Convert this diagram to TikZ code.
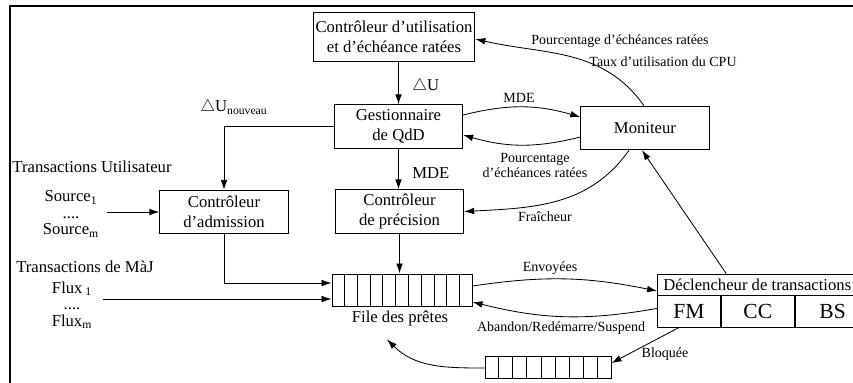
\documentclass[tikz,border=0pt]{standalone}
\usepackage{amsmath}
\usepackage{fontspec}
\setmainfont{Liberation Serif}
\usetikzlibrary{arrows.meta,calc}
\tikzset{
  box/.style={draw, line width=0.6pt, minimum width=77pt, minimum height=26pt, align=center, inner sep=1pt},
  cell/.style={draw, line width=0.5pt, minimum height=19.2pt, inner sep=0pt, font=\fontsize{12.9}{14}\selectfont},
  txt/.style={inner sep=0pt, anchor=base},
  grp/.style={inner sep=0pt, align=center, font=\fontsize{10}{9.9}\selectfont},
  lbl/.style={inner sep=0pt, anchor=base, font=\fontsize{8.4}{9.5}\selectfont},
  arr/.style={-{Latex[length=6pt,width=4pt]}, line width=0.5pt},
}

\begin{document}
\begin{tikzpicture}[x=0.6pt,y=0.6pt]
\useasboundingbox (0,0) rectangle (853,382);
\clip (0,0) rectangle (853,382);
\draw[line width=1.2pt] (10,-10) -- (10,376) -- (880,376);

% boxes
\node[box, minimum width=97pt, minimum height=29pt] (util) at (394,345) {Contrôleur d'utilisation\\et d'échéance ratées};
\node[box] (gest) at (398.5,255.5) {Gestionnaire\\de QdD};
\node[box] (moni) at (645,254) {Moniteur};
\node[box] (adm) at (224,170) {Contrôleur\\d'admission};
\node[box] (prec) at (399.5,170.5) {Contrôleur\\de précision};

% queues
\node[draw, line width=0.6pt, minimum width=84pt, minimum height=19.2pt, inner sep=0pt] (q) at (402,92) {};
\foreach \i in {1,...,10}
  \draw[line width=0.5pt] ($(q.south west)!\i/11!(q.south east)$) -- ($(q.north west)!\i/11!(q.north east)$);
\node[draw, line width=0.6pt, minimum width=75.6pt, minimum height=13.2pt, inner sep=0pt] (q2) at (548,15) {};
\foreach \i in {1,...,8}
  \draw[line width=0.5pt] ($(q2.south west)!\i/9!(q2.south east)$) -- ($(q2.north west)!\i/9!(q2.north east)$);

% trigger
\coordinate (dsw) at (657,87);
\node[inner sep=0pt, minimum height=12.6pt, anchor=west] (decl) at (663,97.5) {Déclencheur de transactions};
\node[cell, minimum width=37.8pt, anchor=north west] (fm) at (dsw) {FM};
\node[cell, minimum width=43.8pt, anchor=west] (cc) at (fm.east) {CC};
\node[cell, minimum width=45pt, anchor=west] (bs) at (cc.east) {BS};
\draw[line width=0.5pt] (fm.north west) |- (880,108);

% texts
\node[txt] (tu) at (92,209.5) {Transactions Utilisateur};
\node[grp] (src) at (71,168) {Source\textsubscript{1}\\....\\Source\textsubscript{m}};
\node[txt] (tm) at (85,109.5) {Transactions de MàJ};
\node[grp] (flux) at (72,77) {Flux\,\textsubscript{1}\\....\\Flux\textsubscript{m}};
\node[txt] (fdp) at (400,59.5) {File des prêtes};
\node[txt, anchor=base west] (du) at (412,291.5) {$\triangle$U};
\node[txt, anchor=base west] (dun) at (200,270.5) {$\triangle$U$_{\text{nouveau}}$};
\node[txt, anchor=base west] (mde1) at (412,203.5) {MDE};

% labels
\node[lbl] (pct1) at (620,337.4) {Pourcentage d'échéances ratées};
\node[lbl] (cpu) at (663,315.4) {Taux d'utilisation du CPU};
\node[lbl] (mde2) at (519,279.4) {MDE};
\node[lbl, anchor=center, align=center] (pct2) at (535,216.5) {Pourcentage\\d'échéances ratées};
\node[lbl] (fra) at (545,160.4) {Fraîcheur};
\node[lbl] (env) at (550,110.4) {Envoyées};
\node[lbl] (aban) at (561,50.4) {Abandon/Redémarre/Suspend};
\node[lbl] (blo) at (665,24.4) {Bloquée};

% connectors
\coordinate (srcin) at (107,170);
\coordinate (flxin) at (103,83);
\draw[arr] (gest.north |- util.south) -- (gest.north);
\draw[arr] (gest.west) -| (adm.north);
\draw[arr] (gest.south) -- (gest.south |- prec.north);
\draw[arr] (srcin) -- (adm.west);
\draw[arr] (adm.south) |- ([yshift=4.2pt]q.west);
\draw[arr] (flxin) -- (flxin -| q.west);
\draw[arr] (prec.south) -- (prec.south |- q.north);
\draw[arr] ([yshift=6.9pt]gest.east) to[bend left=15] ([yshift=6.6pt]moni.west);
\draw[arr] ([yshift=-5.4pt]moni.west) to[bend left=15] ([yshift=-5.1pt]gest.east);
\draw[arr] ([xshift=-0.6pt]moni.north) to[out=125,in=-13] ([yshift=-1.2pt]util.east);
\draw[arr] ([xshift=-9.6pt]moni.south) to[out=-125,in=3] (prec.east);
\draw[arr] ([xshift=-18.6pt]decl.north) -- ([xshift=-1.8pt]moni.south);
\draw[arr] ([yshift=2.4pt]q.east) to[bend left=10] ([yshift=2.4pt]fm.north west);
\draw[arr] ([yshift=1.8pt]fm.west) to[bend left=12] ([yshift=-7.2pt]q.east);
\draw[arr] ([xshift=-6.3pt]fm.south) -- ([yshift=2.4pt]q2.east);
\draw[arr] ([yshift=-0.6pt]q2.west) to[out=180,in=-45] ([shift={(-7.8pt,-7.8pt)}]fdp.south);
\end{tikzpicture}
\end{document}
